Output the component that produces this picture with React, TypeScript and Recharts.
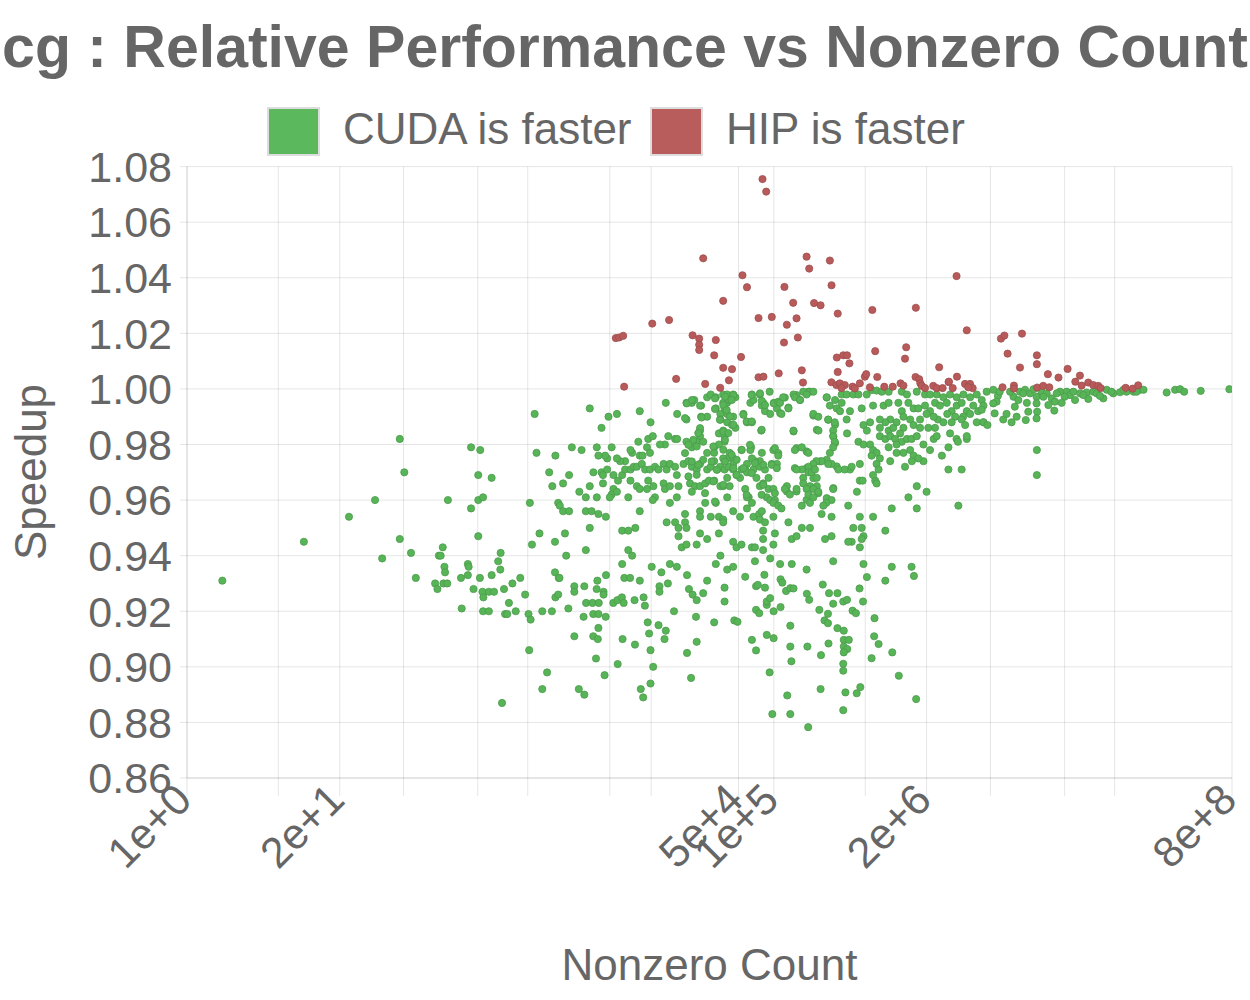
import { ScatterChart, Scatter, XAxis, YAxis, CartesianGrid } from 'recharts';

const FONT = '"Liberation Sans", Arial, Helvetica, sans-serif';
const TEXT = '#666666';
const GRID = 'rgba(0,0,0,0.1)';
const GREEN = '#5cb85c';
const RED = '#b85c5c';

// x grid lines (nonzero counts) and the ones that carry a label
const GRID_X = [1, 6, 20, 70, 300, 800, 4000, 9000, 5e4, 1e5, 6e5, 2e6, 7e6, 3e7, 8e7, 8e8];
const LABELED_X = [1, 20, 5e4, 1e5, 2e6, 8e8];
const Y_TICKS = [0.86, 0.88, 0.9, 0.92, 0.94, 0.96, 0.98, 1, 1.02, 1.04, 1.06, 1.08];

// [nonzero count, speedup]
const hipFaster: [number, number][] = [
  [8.0e4, 1.0755], [8.6e4, 1.071], [2.5e4, 1.047], [1.9e5, 1.0476], [2.0e5, 1.0433], [3.0e5, 1.0462],
  [5.4e4, 1.0409], [5.9e4, 1.0366], [1.23e5, 1.0367], [3.1e5, 1.0373], [3.6e6, 1.0406], [3.7e4, 1.0317],
  [1.46e5, 1.031], [2.2e5, 1.0309], [2.5e5, 1.0301], [6.9e5, 1.0284], [1.62e6, 1.0292], [7.4e4, 1.0255],
  [9.6e4, 1.0259], [1.56e5, 1.0254], [1.29e5, 1.0231], [3.5e5, 1.0271], [1.6e5, 1.0185], [1.22e5, 1.0167],
  [9.2e3, 1.0235], [1.28e4, 1.0248], [4.5e3, 1.0183], [4.8e3, 1.0185], [5.2e3, 1.0191], [2.03e4, 1.0193],
  [2.31e4, 1.0181], [2.31e4, 1.0159], [2.31e4, 1.014], [3.2e4, 1.0176], [3.1e4, 1.0121], [5.25e4, 1.0115],
  [1.47e4, 1.0036], [2.6e4, 1.0018], [5.3e3, 1.0008], [4.4e6, 1.0211], [8.6e6, 1.0181], [9.2e6, 1.0192],
  [1.3e7, 1.0199], [7.3e5, 1.0136], [1.34e6, 1.015], [1.31e6, 1.0109], [3.44e5, 1.0113], [3.9e5, 1.0121],
  [4.2e5, 1.0121], [4.4e5, 1.0092], [9.8e6, 1.0127], [1.74e7, 1.0121], [1.74e7, 1.0089], [1.25e7, 1.0077],
  [2.56e6, 1.0078], [3.7e4, 1.0076], [4.4e4, 1.0071], [1.73e5, 1.0067], [3.5e5, 1.0061], [1.1e5, 1.0056],
  [2.16e7, 1.0053], [3.18e7, 1.0072], [2.66e7, 1.0041], [4.05e7, 1.0048], [7.4e4, 1.0042], [8.15e4, 1.0044],
  [4.14e4, 1.0031], [3.63e6, 1.0044], [1.77e5, 1.0023], [5.96e5, 1.0044], [6.12e5, 1.0053], [7.6e5, 1.0043],
  [1.61e6, 1.0043], [1.73e6, 1.0035], [1.77e6, 1.002], [3.08e6, 1.0025], [3.49e4, 1.0004], [3.09e5, 1.0024],
  [3.41e5, 1.0014], [3.65e5, 1.002], [4.02e5, 1.0014], [3.77e5, 1.0003], [4.68e5, 1.0008], [4.9e5, 1.0002],
  [5.4e5, 1.002], [6.58e5, 1.0006], [8.72e5, 1.0008], [1.03e6, 1.0008], [1.2e6, 1.002], [1.27e6, 1.0012],
  [1.82e6, 1.0011], [1.94e6, 1.0003], [2.28e6, 1.0011], [2.44e6, 1.0003], [2.74e6, 1.0003], [3.1e6, 1.0026],
  [3.34e6, 1.0003], [4.25e6, 1.0018], [4.69e6, 1.0018], [4.94e6, 1.0003], [4.53e6, 1.0006], [8.87e6, 1.0006],
  [1.11e7, 1.0012], [1.11e7, 1.0001], [1.75e7, 1.0005], [1.97e7, 1.0011], [2.22e7, 1.0006], [3.7e7, 1.0026],
  [4.19e7, 1.0012], [4.77e7, 1.0023], [5.26e7, 1.0014], [5.8e7, 1.0011], [6.08e7, 1.0003], [9.93e7, 1.0004],
  [1.14e8, 1.0001], [1.27e8, 1.0013],
];

// small matrices, left tail
const cudaSmall: [number, number][] = [
  [2.0, 0.931], [9.9, 0.945], [24, 0.954], [40, 0.96], [46, 0.939], [65, 0.946], [71, 0.97], [81, 0.941],
  [89, 0.932], [130, 0.93], [136, 0.928], [153, 0.93], [165, 0.93], [140, 0.94], [145, 0.94], [151, 0.943],
  [156, 0.936], [158, 0.934], [167, 0.96], [219, 0.921], [216, 0.932], [247, 0.933], [247, 0.937], [251, 0.936],
  [263, 0.957], [276, 0.928], [303, 0.969], [303, 0.96], [333, 0.961], [303, 0.947], [313, 0.932], [329, 0.927],
  [335, 0.925], [373, 0.927], [413, 0.927], [333, 0.92], [373, 0.92], [394, 0.968], [394, 0.933], [448, 0.938],
  [470, 0.941], [467, 0.935], [483, 0.887], [502, 0.928], [513, 0.919], [535, 0.919], [553, 0.923], [592, 0.93],
  [632, 0.92], [691, 0.932], [760, 0.926], [812, 0.919], [846, 0.917], [823, 0.906], [834, 0.959], [869, 0.944],
  [950, 0.977], [1007, 0.948], [1064, 0.92], [1285, 0.92], [1064, 0.892], [1169, 0.898], [1218, 0.97], [1295, 0.965],
  [1365, 0.945], [1365, 0.934], [1470, 0.932], [1490, 0.932], [1376, 0.976], [1376, 0.925], [1453, 0.926], [1453, 0.959],
  [916, 0.991], [65, 0.982], [263, 0.979], [315, 0.978],
];

// mid-size matrices, lower part of the cloud
const cudaMidLow: [number, number][] = [
  [1774, 0.921], [1995, 0.929], [1995, 0.927], [1995, 0.911], [2178, 0.892], [2427, 0.89], [2392, 0.918], [2427, 0.929],
  [2512, 0.923], [2852, 0.923], [3222, 0.923], [2892, 0.919], [3199, 0.919], [3690, 0.918], [2892, 0.911], [3162, 0.91],
  [3051, 0.903], [3134, 0.931], [3090, 0.928], [3540, 0.927], [3540, 0.926], [3199, 0.914], [3612, 0.897], [3715, 0.933],
  [4285, 0.923], [4642, 0.924], [5073, 0.925], [4670, 0.901], [5140, 0.91], [5320, 0.932], [5957, 0.932], [5250, 0.923],
  [6500, 0.924], [7762, 0.925], [7962, 0.922], [6555, 0.908], [7208, 0.931], [7345, 0.892], [7700, 0.889], [8414, 0.916],
  [8650, 0.912], [8890, 0.906], [8890, 0.894], [9370, 0.9], [1.04e4, 0.915], [1.06e4, 0.929], [1.06e4, 0.927], [1.1e4, 0.934],
  [1.17e4, 0.91], [1.2e4, 0.913], [1.25e4, 0.93], [1.41e4, 0.92], [1.82e4, 0.933], [1.82e4, 0.905], [1.89e4, 0.928],
  [2.03e4, 0.926], [2.2e4, 0.924], [1.97e4, 0.896], [2.17e4, 0.918], [2.2e4, 0.909],
];

// mid-size matrices, 1.5e3 .. 1.1e5
const cudaMid: [number, number][] = [
  [1.2e4, 0.995], [1.8e4, 0.995], [2.0e4, 0.995], [2.1e4, 0.996], [2.4e4, 0.994], [2.7e4, 0.997], [2.9e4, 0.998], [3.2e4, 0.997],
  [3.7e4, 0.998], [4.0e4, 0.998], [4.5e4, 0.998], [4.7e4, 0.997], [3.7e4, 0.995], [4.0e4, 0.995], [4.2e4, 0.996], [3.2e4, 0.993],
  [3.5e4, 0.991], [3.8e4, 0.993], [4.0e4, 0.991], [4.5e4, 0.99], [3.5e4, 0.989], [4.0e4, 0.988], [4.4e4, 0.987], [4.7e4, 0.986],
  [6.5e4, 0.998], [7.6e4, 0.998], [9.2e4, 0.999], [1.0e5, 0.995], [8.1e4, 0.995], [7.9e4, 0.994], [8.4e4, 0.992], [6.3e4, 0.995],
  [6.7e4, 0.996], [5.5e4, 0.991], [5.9e4, 0.988], [6.5e4, 0.988], [7.8e4, 0.985], [1.06e5, 0.993], [1.5e4, 0.991], [1.8e4, 0.989],
  [2.4e4, 0.99], [2.7e4, 0.99], [2.35e4, 0.985], [2.35e4, 0.983], [1.8e4, 0.981], [2.0e4, 0.979], [2.2e4, 0.981], [2.5e4, 0.981],
  [2.7e4, 0.977], [3.1e4, 0.979], [3.1e4, 0.977], [3.4e4, 0.984], [3.7e4, 0.985], [3.8e4, 0.983], [3.8e4, 0.981], [3.4e4, 0.98],
  [7.2e3, 0.992], [8.9e3, 0.988], [3.9e3, 0.99], [4.6e3, 0.991], [2.7e3, 0.993], [3.4e3, 0.986], [7.0e3, 0.981], [8.5e3, 0.982],
  [9.3e3, 0.983], [1.26e4, 0.983], [1.44e4, 0.982], [1.5e4, 0.982], [1.18e4, 0.98], [1.07e4, 0.98], [8.3e3, 0.979], [8.8e3, 0.977],
  [7.2e3, 0.976], [7.6e3, 0.976], [6.2e3, 0.977], [6.0e3, 0.978], [5.4e3, 0.974], [4.9e3, 0.974], [4.6e3, 0.975], [4.15e3, 0.979],
  [3.8e3, 0.975], [3.65e3, 0.976], [3.2e3, 0.976], [3.1e3, 0.979], [2.3e3, 0.978], [1.9e3, 0.979], [4.2e4, 0.977], [4.5e4, 0.975],
  [5.3e4, 0.978], [6.4e4, 0.979], [6.3e4, 0.978], [7.9e4, 0.977], [9.9e4, 0.978], [7.6e4, 0.974], [6.9e4, 0.974], [6.5e4, 0.975],
  [5.9e4, 0.973], [5.7e4, 0.971], [4.5e4, 0.973], [4.0e4, 0.975], [3.7e4, 0.975],
  [2.9e3, 0.97], [3.4e3, 0.97], [3.5e3, 0.969], [3.8e3, 0.971], [4.3e3, 0.969], [4.7e3, 0.967], [5.1e3, 0.969], [5.4e3, 0.971],
  [6.0e3, 0.971], [6.4e3, 0.972], [6.8e3, 0.972], [7.5e3, 0.973], [8.0e3, 0.971], [8.8e3, 0.971], [9.7e3, 0.972], [1.04e4, 0.971],
  [1.15e4, 0.973], [1.22e4, 0.971], [1.3e4, 0.973], [1.44e4, 0.972], [1.49e4, 0.969], [1.7e4, 0.973], [1.87e4, 0.974], [2.0e4, 0.972],
  [2.2e4, 0.971], [2.35e4, 0.973], [2.7e4, 0.971], [2.9e4, 0.972], [3.1e4, 0.974], [3.3e4, 0.971], [3.5e4, 0.972], [3.8e4, 0.971],
  [4.1e4, 0.972], [4.5e4, 0.971], [4.8e4, 0.969], [5.3e4, 0.971], [5.9e4, 0.97], [6.7e4, 0.971], [7.6e4, 0.972], [8.4e4, 0.971],
  [9.6e4, 0.973], [1.06e5, 0.973], [9.0e4, 0.968], [7.1e4, 0.968], [1.8e3, 0.969], [1.6e3, 0.966], [2.7e3, 0.965], [3.5e3, 0.966],
  [4.3e3, 0.964], [4.15e3, 0.962], [4.6e3, 0.963], [6.0e3, 0.967], [6.8e3, 0.965], [7.2e3, 0.964], [8.5e3, 0.967], [8.3e3, 0.964],
  [9.4e3, 0.965], [9.7e3, 0.961], [9.3e3, 0.96], [1.15e4, 0.966], [1.18e4, 0.964], [1.3e4, 0.965], [1.54e4, 0.965], [1.49e4, 0.961],
  [1.93e4, 0.966], [2.13e4, 0.965], [2.0e4, 0.963], [2.35e4, 0.965], [2.6e4, 0.966], [2.8e4, 0.967], [3.1e4, 0.967], [3.5e4, 0.965],
  [3.7e4, 0.965], [4.0e4, 0.968], [4.2e4, 0.965], [5.15e4, 0.968], [5.7e4, 0.964], [6.1e4, 0.961], [7.6e4, 0.965], [8.1e4, 0.966],
  [9.0e4, 0.964], [9.9e4, 0.964], [8.7e4, 0.961], [9.3e4, 0.96], [1.02e5, 0.96],
  [1.5e3, 0.958], [1.6e3, 0.956], [1.8e3, 0.956], [2.2e3, 0.963], [2.5e3, 0.961], [3.1e3, 0.961], [4.0e3, 0.961], [5.75e3, 0.961],
  [7.2e3, 0.956], [2.5e3, 0.956], [2.8e3, 0.956], [3.2e3, 0.955], [3.7e3, 0.954], [2.7e3, 0.95], [1.66e3, 0.948], [5.1e3, 0.949],
  [5.75e3, 0.949], [6.6e3, 0.95], [1.22e4, 0.952], [1.3e4, 0.959], [1.44e4, 0.952], [1.54e4, 0.95], [1.75e4, 0.955], [1.75e4, 0.952],
  [1.8e4, 0.95], [1.54e4, 0.947], [2.35e4, 0.956], [2.35e4, 0.954], [2.6e4, 0.959], [2.9e4, 0.954], [3.2e4, 0.959], [3.4e4, 0.954],
  [3.7e4, 0.953], [3.7e4, 0.952], [4.0e4, 0.961], [4.5e4, 0.956], [5.15e4, 0.954], [5.9e4, 0.961], [5.9e4, 0.957], [6.5e4, 0.959],
  [6.7e4, 0.954], [7.5e4, 0.955], [7.9e4, 0.956], [7.6e4, 0.953], [8.4e4, 0.952], [8.1e4, 0.949], [9.9e4, 0.959], [9.9e4, 0.954],
  [1.02e5, 0.948], [2.35e4, 0.948], [2.7e4, 0.946], [3.4e4, 0.948], [4.5e4, 0.945], [4.8e4, 0.943], [5.3e4, 0.944], [6.5e4, 0.943],
  [6.9e4, 0.943], [8.1e4, 0.942], [8.1e4, 0.946], [9.9e4, 0.944], [1.64e4, 0.943], [1.8e4, 0.944], [2.2e4, 0.944], [5.75e3, 0.942],
  [6.2e3, 0.94], [2.5e3, 0.942], [1.7e3, 0.94], [5.1e3, 0.937], [9.1e3, 0.936], [1.3e4, 0.937], [1.49e4, 0.936], [3.2e4, 0.937],
  [3.5e4, 0.94], [4.0e4, 0.935], [4.5e4, 0.936], [6.9e4, 0.938], [9.3e4, 0.939], [1.13e5, 0.937],
];

// densest part of the cloud, 1.7e4 .. 3.5e5
const cudaCore: [number, number][] = [
  [1.81e4, 0.9948], [2.0e4, 0.996], [3.15e4, 0.9966], [3.83e4, 0.9972], [4.52e4, 0.9978], [4.37e4, 0.996], [6.47e4, 0.9978], [7.62e4, 0.9984],
  [7.87e4, 0.9957], [8.4e4, 0.9942], [1.0e5, 0.9948], [1.09e5, 0.9954], [1.24e5, 0.9969], [1.56e5, 0.9978], [1.67e5, 0.996], [1.97e5, 0.999],
  [2.82e5, 0.9969], [3.32e5, 0.996], [3.43e5, 0.993], [2.35e4, 0.994], [3.15e4, 0.9928], [3.71e4, 0.9942], [3.96e4, 0.9924], [3.47e4, 0.9889],
  [4.23e4, 0.9901], [4.52e4, 0.9871], [5.5e4, 0.9907], [5.86e4, 0.9883], [6.47e4, 0.9883], [1.13e5, 0.9913], [1.33e5, 0.9933], [2.17e5, 0.9904],
  [2.91e5, 0.9889], [3.32e5, 0.9871], [1.75e4, 0.9895], [2.42e4, 0.9897], [2.35e4, 0.9859], [2.27e4, 0.9841], [2.06e4, 0.9817], [2.2e4, 0.9793],
  [1.87e4, 0.9799], [3.05e4, 0.9793], [3.71e4, 0.9847], [4.09e4, 0.9841], [3.83e4, 0.9817], [3.71e4, 0.9781], [4.37e4, 0.9763], [5.32e4, 0.9781],
  [6.26e4, 0.9799], [7.87e4, 0.9853], [1.47e5, 0.9847], [2.32e5, 0.9853], [3.21e5, 0.9829], [3.32e5, 0.9805], [1.02e5, 0.9787], [1.09e5, 0.9769],
  [1.56e5, 0.9787], [1.9e5, 0.9775], [1.75e4, 0.9769], [2.0e4, 0.9739], [2.27e4, 0.9727], [2.5e4, 0.9745], [2.95e4, 0.9739], [3.26e4, 0.9709],
  [3.83e4, 0.9739], [4.52e4, 0.9715], [4.82e4, 0.9745], [5.5e4, 0.9715], [6.9e4, 0.9733], [8.13e4, 0.9727], [9.58e4, 0.9727], [1.06e5, 0.9715],
  [1.51e5, 0.9715], [1.9e5, 0.9715], [2.47e5, 0.9739], [2.82e5, 0.9745], [3.43e5, 0.9721], [1.87e4, 0.9685], [2.2e4, 0.9691], [3.05e4, 0.9667],
  [3.71e4, 0.9655], [4.82e4, 0.9691], [6.47e4, 0.9697], [8.13e4, 0.9655], [1.02e5, 0.9625], [7.87e4, 0.9619], [5.86e4, 0.9619], [1.29e5, 0.9631],
  [1.56e5, 0.9631], [2.17e5, 0.9679], [2.39e5, 0.9625], [2.82e5, 0.9607], [3.21e5, 0.9643], [2.59e4, 0.9625], [3.15e4, 0.9595], [1.9e5, 0.9601],
];

// large matrices, 1e5 .. 6.5e6
const cudaLarge: [number, number][] = [
  [1.13e5, 0.995], [1.2e5, 0.997], [1.33e5, 0.993], [1.16e5, 0.991], [1.47e5, 0.998], [1.51e5, 0.997], [1.78e5, 0.999], [2.03e5, 0.999],
  [2.17e5, 0.999], [1.67e5, 0.996], [1.9e5, 0.998], [2.82e5, 0.997], [3.78e5, 0.998], [4.17e5, 0.998], [4.75e5, 0.998], [5.25e5, 0.998],
  [6.18e5, 0.998], [6.81e5, 0.9996], [7.5e5, 0.9994], [8.3e5, 0.999], [9.5e5, 0.999], [1.23e6, 0.999], [1.36e6, 0.998], [1.65e6, 0.999],
  [1.94e6, 0.998], [2.14e6, 0.998], [2.44e6, 0.998], [2.78e6, 0.997], [3.17e6, 0.998], [3.61e6, 0.997], [4.12e6, 0.998], [4.7e6, 0.997],
  [5.35e6, 0.998], [5.9e6, 0.996], [6.5e6, 0.999],
  [3.0e5, 0.994], [3.66e5, 0.992], [3.78e5, 0.995], [4.45e5, 0.992], [5.6e5, 0.993], [7.0e5, 0.994], [8.6e5, 0.994], [9.5e5, 0.995],
  [1.15e6, 0.995], [1.23e6, 0.992], [1.4e6, 0.995], [1.55e6, 0.993], [1.7e6, 0.993], [1.94e6, 0.994], [2.14e6, 0.992], [2.36e6, 0.995],
  [2.6e6, 0.994], [2.97e6, 0.995], [3.27e6, 0.992], [3.61e6, 0.994], [3.98e6, 0.995], [4.4e6, 0.992], [5.0e6, 0.994], [5.5e6, 0.992],
  [6.1e6, 0.994], [6.1e6, 0.988], [4.7e6, 0.991], [4.1e6, 0.99], [3.5e6, 0.99], [3.0e6, 0.991], [2.5e6, 0.989], [2.3e6, 0.99],
  [2.0e6, 0.991], [1.76e6, 0.989], [1.45e6, 0.989], [1.27e6, 0.99], [1.11e6, 0.988], [9.8e5, 0.989], [8.9e5, 0.988], [8.0e5, 0.989],
  [6.6e5, 0.988], [5.8e5, 0.987], [6.2e5, 0.985], [8.0e5, 0.986], [9.5e5, 0.985], [1.04e6, 0.986], [1.27e6, 0.986], [1.55e6, 0.987],
  [1.76e6, 0.986], [2.07e6, 0.986], [2.36e6, 0.986], [2.78e6, 0.988], [3.27e6, 0.988], [3.98e6, 0.989], [4.26e6, 0.987], [5.35e6, 0.988],
  [2.17e5, 0.991], [2.39e5, 0.99], [2.9e5, 0.989], [3.3e5, 0.988], [4.17e5, 0.989], [3.2e5, 0.985], [2.4e5, 0.985], [1.47e5, 0.985],
  [9.3e4, 0.991],
  [3.2e5, 0.983], [3.3e5, 0.981], [4.2e5, 0.984], [5.25e5, 0.981], [5.8e5, 0.98], [6.6e5, 0.98], [7.0e5, 0.978], [7.5e5, 0.977],
  [8.0e5, 0.983], [8.9e5, 0.982], [9.8e5, 0.983], [1.08e6, 0.982], [1.19e6, 0.984], [1.23e6, 0.981], [1.36e6, 0.982], [1.49e6, 0.982],
  [1.65e6, 0.983], [9.5e5, 0.979], [1.11e6, 0.98], [1.11e6, 0.977], [9.8e5, 0.974], [1.27e6, 0.977], [1.45e6, 0.978], [1.55e6, 0.976],
  [1.88e6, 0.98], [2.14e6, 0.978], [2.3e6, 0.982], [2.44e6, 0.983], [3.17e6, 0.984], [3.6e6, 0.982], [4.4e6, 0.982], [4.4e6, 0.983],
  [3.7e6, 0.981], [3.07e6, 0.979], [2.7e6, 0.976], [3.07e6, 0.971], [3.98e6, 0.971], [1.88e6, 0.974], [1.7e6, 0.975], [1.5e6, 0.974],
  [1.31e6, 0.972], [8.0e5, 0.975], [6.8e5, 0.976], [7.5e5, 0.973], [7.8e5, 0.971], [5.4e5, 0.973], [4.45e5, 0.971], [4.0e5, 0.971],
  [3.54e5, 0.971], [3.1e5, 0.973], [2.9e5, 0.973], [2.55e5, 0.974], [2.3e5, 0.974], [2.17e5, 0.973], [1.97e5, 0.972], [1.73e5, 0.971],
  [1.56e5, 0.971], [1.51e5, 0.978], [1.73e5, 0.979], [1.97e5, 0.977], [1.09e5, 0.976], [3.0e5, 0.977], [3.2e5, 0.979],
  [1.78e5, 0.968], [1.97e5, 0.97], [2.1e5, 0.97], [2.24e5, 0.971], [2.32e5, 0.968], [1.78e5, 0.966], [2.03e5, 0.965], [2.32e5, 0.965],
  [1.9e5, 0.964], [2.17e5, 0.964], [1.97e5, 0.962], [2.39e5, 0.963], [2.17e5, 0.961], [2.03e5, 0.959], [1.73e5, 0.958], [1.56e5, 0.964],
  [1.29e5, 0.965], [1.24e5, 0.964], [1.37e5, 0.962], [1.09e5, 0.958], [1.16e5, 0.957], [3.2e5, 0.964], [3.1e5, 0.96], [2.8e5, 0.959],
  [2.64e5, 0.958], [3.1e5, 0.954], [2.55e5, 0.955], [4.3e5, 0.958], [5.1e5, 0.963], [5.4e5, 0.967], [5.7e5, 0.967], [7.3e5, 0.967],
  [7.0e5, 0.969], [7.5e5, 0.966], [4.6e5, 0.972], [5.4e5, 0.954], [7.0e5, 0.954], [1.01e6, 0.957], [1.4e6, 0.961], [1.65e6, 0.965],
  [1.65e6, 0.957], [2.0e6, 0.963], [3.73e6, 0.958], [1.33e5, 0.952], [1.42e5, 0.946], [1.56e5, 0.947], [1.73e5, 0.95], [2.03e5, 0.95],
  [2.73e5, 0.946], [3.1e5, 0.947], [4.75e5, 0.95], [5.6e5, 0.95], [5.8e5, 0.947], [5.6e5, 0.946], [4.6e5, 0.945], [4.3e5, 0.945],
  [5.4e5, 0.943], [8.9e5, 0.949], [1.42e5, 0.937], [1.9e5, 0.935], [3.2e5, 0.938], [5.8e5, 0.937], [1.01e6, 0.936], [1.49e6, 0.936],
];

// large matrices, lower part of the cloud
const cudaLargeLow: [number, number][] = [
  [2.7e4, 0.931], [3.8e4, 0.9285], [3.8e4, 0.9235], [2.5e4, 0.9265], [5.7e4, 0.9324], [8.3e4, 0.9331], [7.05e4, 0.929], [7.3e4, 0.9295],
  [8.4e4, 0.9285], [8.7e4, 0.9223], [8.7e4, 0.9235], [9.3e4, 0.9247], [1.14e5, 0.9315], [1.18e5, 0.9303], [1.27e5, 0.9273], [1.38e5, 0.9283],
  [1.47e5, 0.9282], [7.05e4, 0.9205], [7.5e4, 0.9193], [9.95e4, 0.92], [1.14e5, 0.9215], [1.91e5, 0.9263], [2.0e5, 0.9241], [2.61e5, 0.9296],
  [2.95e5, 0.9265], [3.2e5, 0.9227], [3.48e5, 0.9265], [3.9e5, 0.9235], [4.2e5, 0.9241], [5.37e5, 0.9282], [5.75e5, 0.9235], [6.2e5, 0.9323],
  [8.9e5, 0.931], [1.56e6, 0.9327], [2.44e5, 0.9205], [2.89e5, 0.9191], [2.7e5, 0.9167], [2.89e5, 0.9157], [4.68e5, 0.9202], [5.0e5, 0.9193],
  [7.2e5, 0.9175], [4.6e4, 0.9167], [4.9e4, 0.9162], [3.1e4, 0.916], [1.38e5, 0.9148], [8.7e4, 0.9115], [9.95e4, 0.9103], [6.5e4, 0.9097],
  [7.05e4, 0.9059], [1.38e5, 0.9073], [1.41e5, 0.902], [1.93e5, 0.9073], [2.52e5, 0.9042], [2.92e5, 0.9084], [3.48e5, 0.9139], [3.94e5, 0.913],
  [3.94e5, 0.9097], [4.35e5, 0.9097], [3.94e5, 0.9073], [4.22e5, 0.9064], [3.94e5, 0.9052], [3.9e5, 0.9011], [3.9e5, 0.8986], [7.15e5, 0.911],
  [7.8e5, 0.9082], [6.8e5, 0.9031], [1.02e6, 0.9052], [1.16e6, 0.8968], [9.2e4, 0.898], [1.3e5, 0.8897], [2.5e5, 0.892], [4.07e5, 0.8908],
  [5.08e5, 0.8905], [5.45e5, 0.8927], [9.7e4, 0.883], [1.38e5, 0.883], [3.9e5, 0.8844], [1.96e5, 0.8783], [1.63e6, 0.8884],
];

// very large matrices, converging to 1.00
const cudaHuge: [number, number][] = [
  [7.4e6, 0.9997], [8.1e6, 0.9975], [7.9e6, 0.9954], [7.4e6, 0.9948], [7.6e6, 0.9912], [9.0e6, 0.989], [9.6e6, 0.991], [1.06e7, 0.988],
  [1.17e7, 0.99], [1.13e7, 0.9936], [1.1e7, 0.9972], [1.25e7, 0.999], [1.21e7, 0.996], [1.38e7, 0.9997], [1.43e7, 0.995], [1.52e7, 0.9984],
  [1.47e7, 0.9918], [1.4e7, 0.9888], [1.63e7, 0.9999], [1.73e7, 0.9972], [1.73e7, 0.9948], [1.75e7, 0.9918], [1.73e7, 0.9894], [1.91e7, 0.999],
  [2.11e7, 0.9984], [2.18e7, 0.9942], [2.33e7, 0.9966], [2.48e7, 0.9954], [2.45e7, 0.9922], [2.74e7, 0.999], [2.83e7, 0.995], [3.12e7, 0.999],
  [3.33e7, 0.9978], [3.68e7, 0.996], [4.06e7, 0.9984], [4.62e7, 0.9987], [4.77e7, 0.9964], [5.27e7, 0.999], [6.41e7, 0.9966], [6.85e7, 0.9997],
  [7.8e7, 0.9984], [8.9e7, 0.9988], [1.01e8, 0.999], [1.16e8, 0.999], [1.32e8, 0.9997], [1.41e8, 0.9997], [2.22e8, 0.9987], [2.62e8, 0.9997],
  [2.89e8, 0.9999], [3.13e8, 0.999], [4.33e8, 0.9993], [7.6e8, 0.9999], [1.74e7, 0.978], [1.74e7, 0.969], [6.1e6, 0.988], [6.6e6, 0.987],
  [5.9e6, 0.9925], [8.4e6, 0.999], [1.03e7, 0.999], [1.33e7, 0.9984], [1.98e7, 0.9972], [2.57e7, 0.9984], [3.0e7, 0.9972], [3.56e7, 0.999],
  [4.33e7, 0.9978], [5.62e7, 0.9984], [6.0e7, 0.9975], [7.5e7, 0.999], [9.5e7, 0.9997], [1.23e8, 0.999],
];

const toPoints = (rows: [number, number][]) => rows.map(([x, y]) => ({ x, y }));
const cudaData = toPoints([
  ...cudaSmall, ...cudaMidLow, ...cudaMid, ...cudaCore, ...cudaLarge, ...cudaLargeLow, ...cudaHuge,
]);
const hipData = toPoints(hipFaster);

const dot = (fill: string, stroke: string) => (p: any) =>
  <circle cx={p.cx} cy={p.cy} r={3.6} fill={fill} stroke={stroke} strokeWidth={0.8} />;

function XTick(props: any) {
  const { x, y, payload } = props;
  if (!LABELED_X.includes(payload.value)) return <g />;
  const ax = x + 7;
  const ay = y + 4;
  return (
    <text x={ax} y={ay} transform={`rotate(-45, ${ax}, ${ay})`} textAnchor="end" fontSize={43} fill={TEXT}>
      {Number(payload.value).toExponential(0)}
    </text>
  );
}

export default function App() {
  return (
    <div style={{ position: 'absolute', left: 0, top: 0, width: 1250, height: 1000, background: '#fff', fontFamily: FONT }}>
      <ScatterChart width={1250} height={1000} margin={{ top: 166.6, right: 18, bottom: 0, left: 0 }}>
        <CartesianGrid stroke={GRID} />
        <XAxis
          type="number"
          dataKey="x"
          scale="log"
          domain={[1, 8e8]}
          allowDataOverflow
          ticks={GRID_X}
          interval={0}
          height={222}
          tickSize={18}
          tickLine={{ stroke: GRID }}
          axisLine={{ stroke: GRID }}
          tick={XTick}
          label={{ value: 'Nonzero Count', position: 'insideBottom', offset: 20, fill: TEXT, fontSize: 44 }}
        />
        <YAxis
          type="number"
          dataKey="y"
          domain={[0.86, 1.08]}
          allowDataOverflow
          ticks={Y_TICKS}
          interval={0}
          width={187}
          tickSize={7}
          tickMargin={8}
          tickLine={{ stroke: GRID }}
          axisLine={{ stroke: GRID }}
          tick={{ fontSize: 43, fill: TEXT }}
          tickFormatter={(v: number) => v.toFixed(2)}
        />
        <Scatter name="CUDA is faster" data={cudaData} shape={dot('#57b457', '#4c9c4c')} isAnimationActive={false} />
        <Scatter name="HIP is faster" data={hipData} shape={dot('#b85a5a', '#9e4e4e')} isAnimationActive={false} />
      </ScatterChart>
      <svg width={1250} height={1000} style={{ position: 'absolute', left: 0, top: 0, pointerEvents: 'none' }}>
        <text x={625} y={67} textAnchor="middle" fontSize={59} fontWeight="bold" fill={TEXT}>
          cg : Relative Performance vs Nonzero Count
        </text>
        <rect x={268} y={108} width={51} height={47} fill={GREEN} stroke="#dddddd" strokeWidth={2} />
        <text x={343} y={144} fontSize={44} fill={TEXT}>CUDA is faster</text>
        <rect x={651} y={108} width={51} height={47} fill={RED} stroke="#dddddd" strokeWidth={2} />
        <text x={726} y={144} fontSize={44} fill={TEXT}>HIP is faster</text>
        <text x={46} y={472} transform="rotate(-90, 46, 472)" textAnchor="middle" fontSize={44} fill={TEXT}>
          Speedup
        </text>
      </svg>
    </div>
  );
}
